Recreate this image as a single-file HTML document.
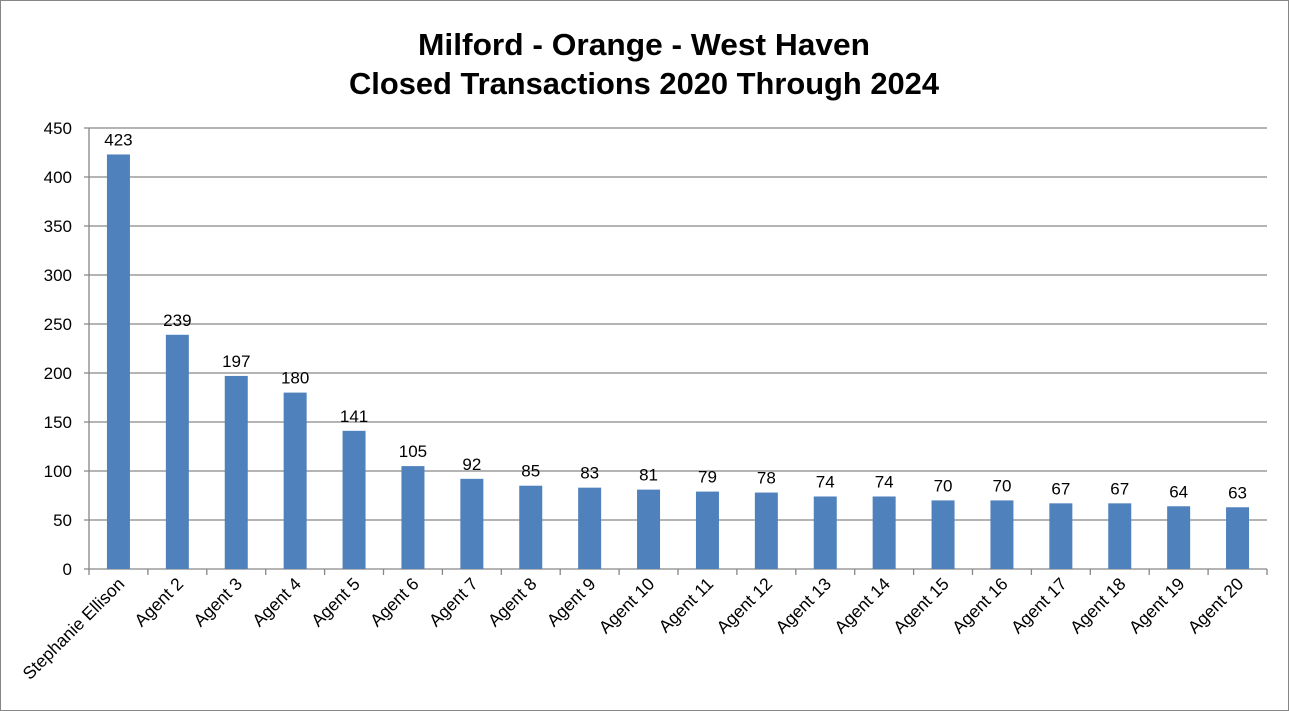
<!DOCTYPE html>
<html><head><meta charset="utf-8"><style>
body{margin:0;background:#fff;}
svg{display:block;font-family:"Liberation Sans",Calibri,sans-serif;}
</style></head><body>
<svg width="1289" height="711" viewBox="0 0 1289 711">
<rect x="0.5" y="0.5" width="1288" height="710" fill="#fff" stroke="#868686"/>
<text x="644" y="55" text-anchor="middle" font-size="31" font-weight="bold" textLength="452" lengthAdjust="spacingAndGlyphs">Milford - Orange - West Haven</text>
<text x="644" y="94" text-anchor="middle" font-size="31" font-weight="bold" textLength="590" lengthAdjust="spacingAndGlyphs">Closed Transactions 2020 Through 2024</text>
<g id="g"></g>
</svg>
<script>
const g=document.getElementById('g');
const ns='http://www.w3.org/2000/svg';
function el(t,a,txt){const e=document.createElementNS(ns,t);for(const k in a)e.setAttribute(k,a[k]);if(txt!==undefined)e.textContent=txt;g.appendChild(e);return e;}
const x0=89,x1=1267,y0=569,yTop=128;
const sy=(y0-yTop)/450;
for(let v=0;v<=450;v+=50){const y=y0-v*sy;
 el('line',{x1:x0-5,x2:x1,y1:y,y2:y,stroke:'#868686','stroke-width':1.3});
 el('text',{x:x0-17,y:y+6,'text-anchor':'end','font-size':17},v);}
el('line',{x1:x0,x2:x0,y1:yTop,y2:y0,stroke:'#868686','stroke-width':1.3});
const names=['Stephanie Ellison'];for(let i=2;i<=20;i++)names.push('Agent '+i);
const vals=[423,239,197,180,141,105,92,85,83,81,79,78,74,74,70,70,67,67,64,63];
const w=(x1-x0)/20;
for(let i=0;i<=20;i++){const x=x0+i*w;el('line',{x1:x,x2:x,y1:y0,y2:y0+6,stroke:'#868686','stroke-width':1.3});}
vals.forEach((v,i)=>{const c=x0+w*(i+0.5);const h=v*sy;
 el('rect',{x:c-11.5,y:y0-h,width:23,height:h,fill:'#4f81bd'});
 el('text',{x:c,y:y0-h-9,'text-anchor':'middle','font-size':17},v);
 el('text',{x:c+7,y:y0+16,'text-anchor':'end','font-size':17.5,transform:`rotate(-45 ${c+7} ${y0+16})`},names[i]);
});
</script>
</body></html>
